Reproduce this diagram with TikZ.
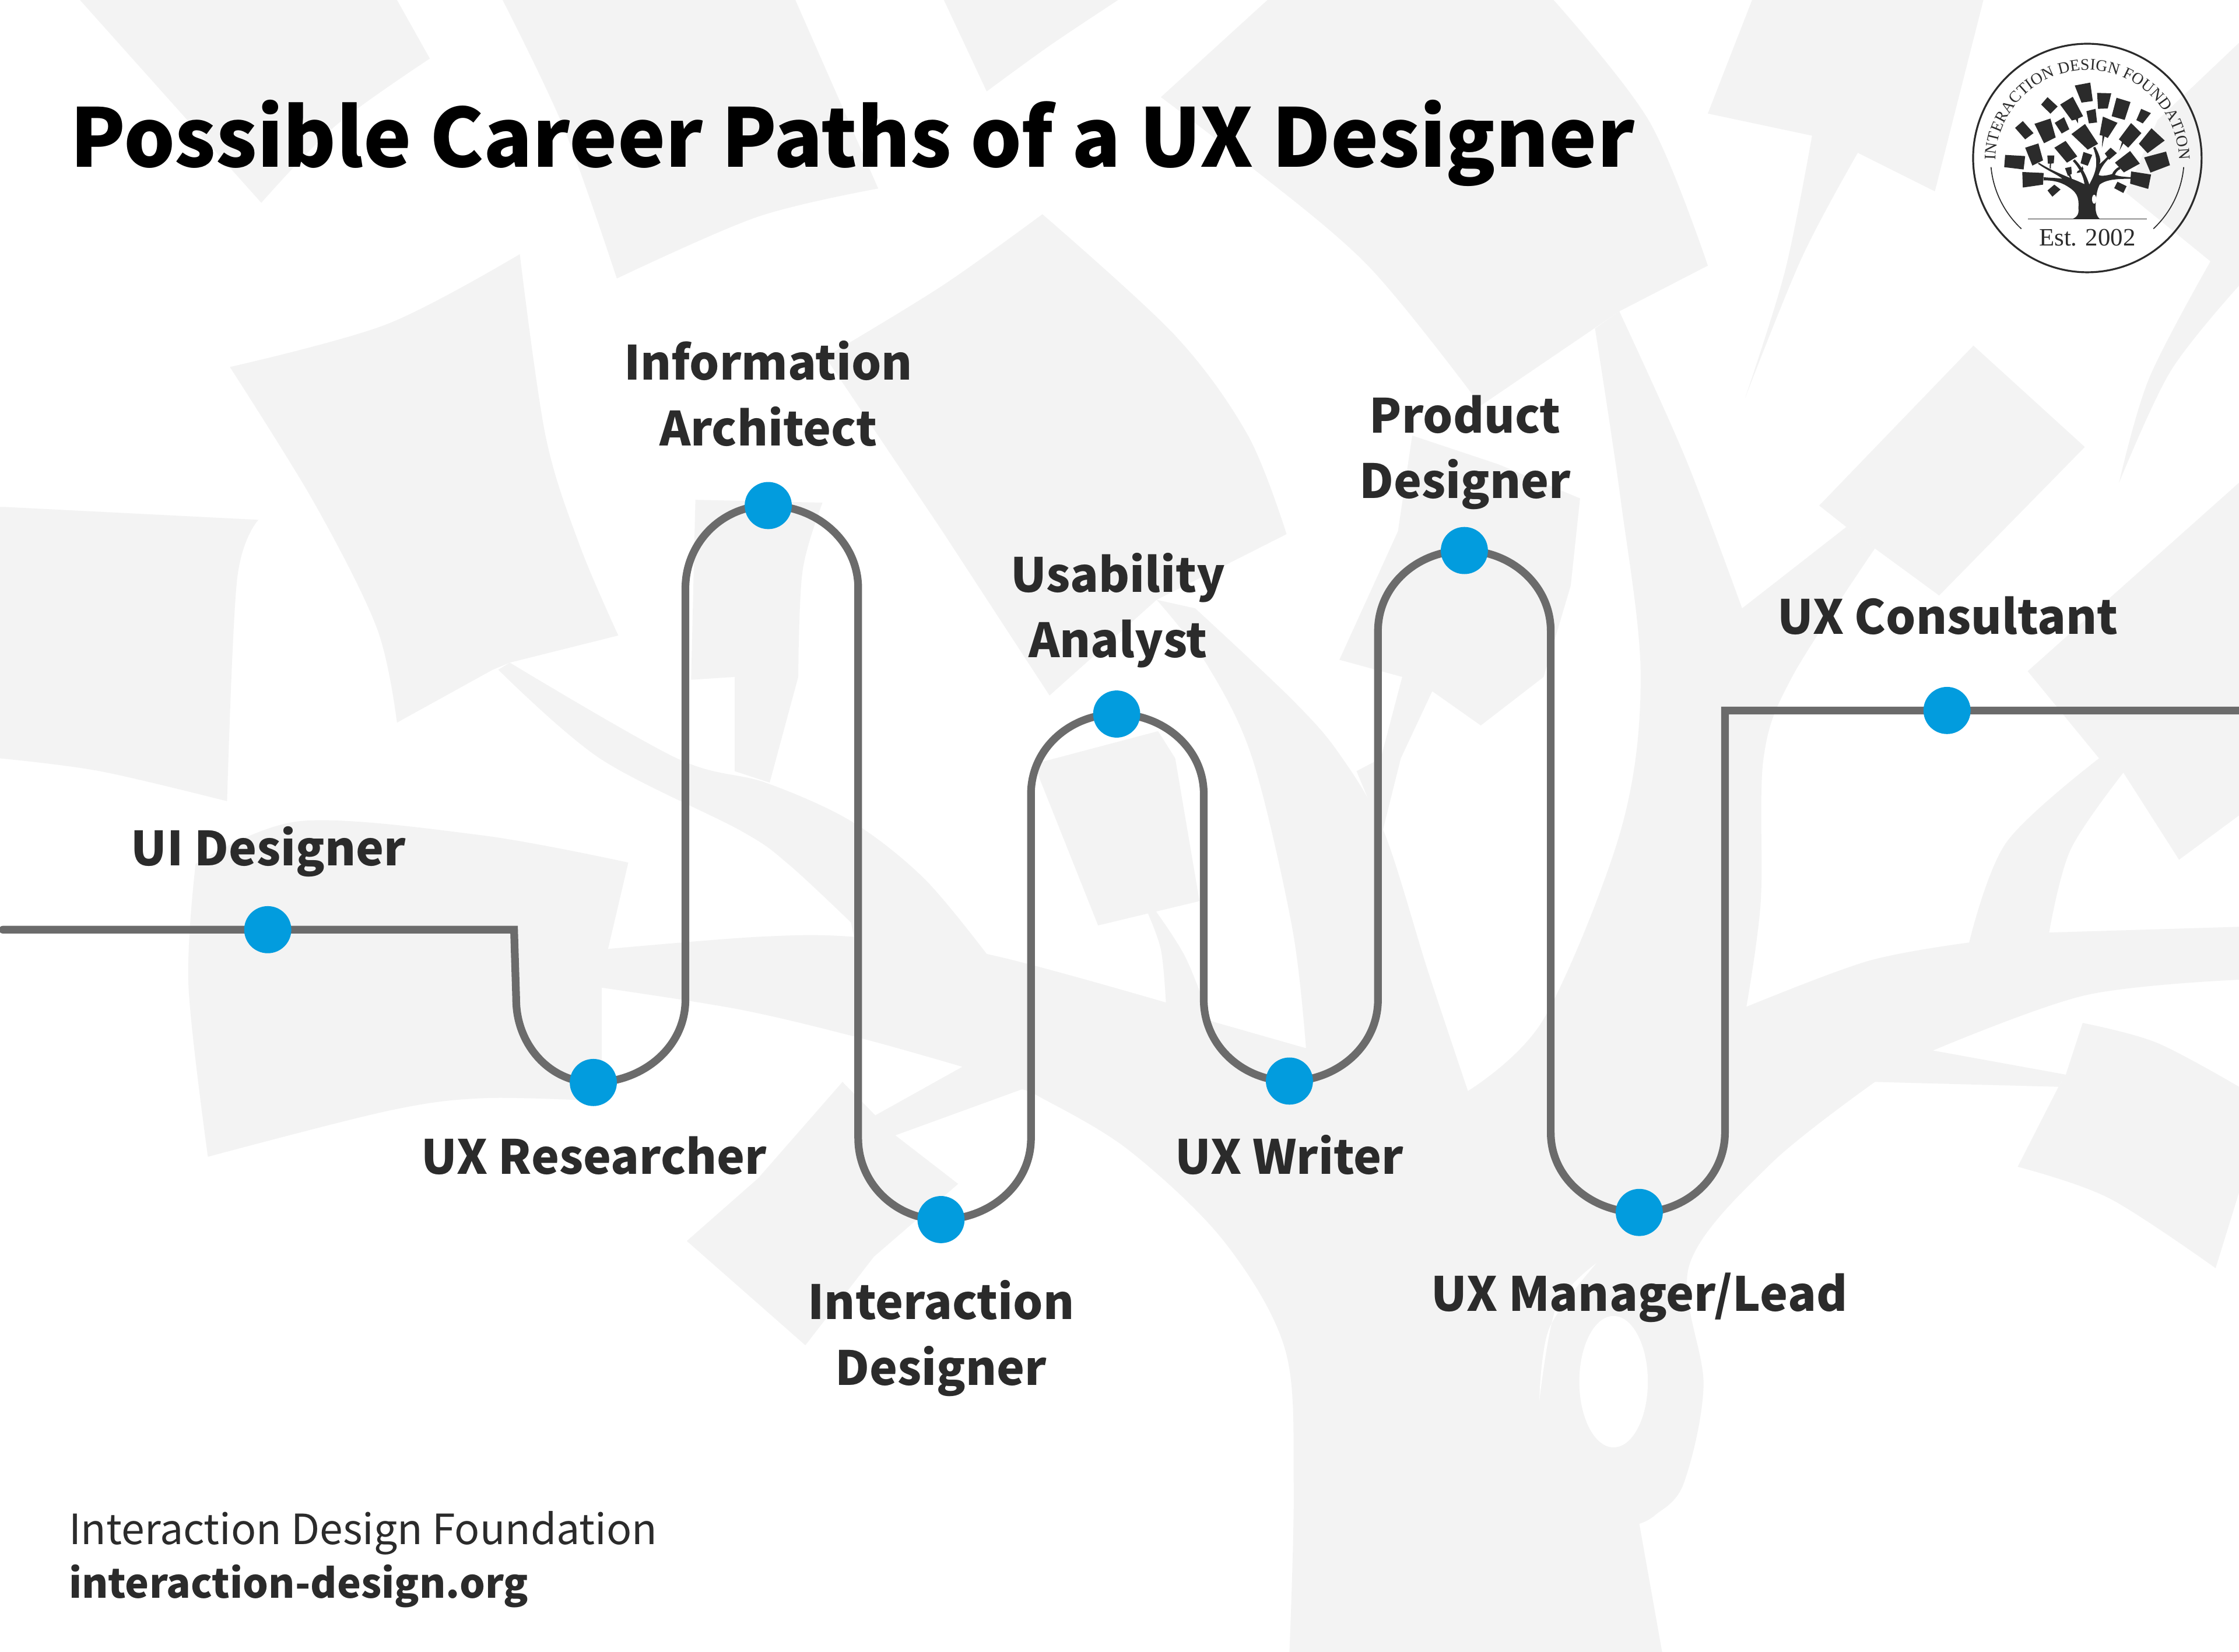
\documentclass[tikz,border=0pt]{standalone}
\usepackage{fontspec}
\usetikzlibrary{decorations.text}
\setmainfont{Noto Sans CJK SC}
\newfontfamily\logofont{Liberation Serif}
\definecolor{treegray}{HTML}{F3F3F3}
\definecolor{logoink}{HTML}{2B2B2B}
\definecolor{labelink}{HTML}{2B2B2B}
\definecolor{trackgray}{HTML}{6B6B6B}
\definecolor{dotblue}{HTML}{029CDE}
\pgfdeclarelayer{under}
\pgfsetlayers{under,main}
\newcommand{\treeshapes}{%
\fill (655,320)--(735,305)--(748,400)--(690,408)--cycle;
\fill (770,358)--(843,360)--(825,438)--(775,440)--cycle;
\fill (870,383)--(942,405)--(912,497)--(845,478)--cycle;
\fill (997,440)--(1047,462)--(1005,515)--(972,498)--cycle;
\fill (482,418)--(515,380)--(567,428)--(530,465)--cycle;
\fill (580,418)--(645,378)--(698,478)--(672,490)--(672,515)--(660,495)--(640,500)--cycle;
\fill (715,452)--(762,440)--(770,510)--(728,515)--cycle;
\fill (348,538)--(388,503)--(443,565)--(400,597)--cycle;
\fill (448,517)--(530,490)--(557,587)--(497,617)--cycle;
\fill (552,512)--(600,483)--(627,545)--(588,567)--cycle;
\fill (638,570)--(708,518)--(775,620)--(722,650)--cycle;
\fill (800,480)--(875,512)--(825,590)--(808,582)--(795,640)--(798,578)--(783,575)--cycle;
\fill (945,513)--(998,565)--(930,640)--(905,618)--(885,655)--(898,610)--(882,597)--cycle;
\fill (1050,540)--(1118,603)--(1030,668)--(985,620)--cycle;
\fill (400,640)--(468,618)--(492,705)--(437,732)--cycle;
\fill (297,677)--(400,683)--(392,752)--(292,740)--cycle;
\fill (550,640)--(608,605)--(668,685)--(615,717)--cycle;
\fill (514,680)--(550,680)--(547,720)--(533,722)--(532,748)--(526,745)--(527,722)--(517,722)--cycle;
\fill (700,662)--(745,677)--(722,733)--(685,720)--cycle;
\fill (810,670)--(840,640)--(872,668)--(832,702)--cycle;
\fill (862,717)--(940,657)--(990,722)--(908,767)--cycle;
\fill (1012,690)--(1125,660)--(1145,730)--(1045,768)--cycle;
\fill (385,765)--(495,770)--(492,830)--(388,845)--cycle;
\fill (605,745)--(637,738)--(640,775)--(632,778)--(642,805)--(634,803)--(624,783)--(620,785)--cycle;
\fill (945,762)--(1048,778)--(1033,852)--(940,825)--cycle;
\fill (515,860)--(550,830)--(582,855)--(540,892)--cycle;
\fill (875,815)--(922,838)--(905,873)--(858,848)--cycle;
\fill (640,1008) .. controls (665,998) and (678,985) .. (674,950)
  .. controls (678,890) and (665,865) .. (604,831)
  .. controls (585,822) and (560,808) .. (495,808)
  -- (495,792)
  .. controls (530,795) and (560,795) .. (592,800)
  .. controls (560,775) and (510,755) .. (465,722)
  -- (472,718)
  .. controls (530,755) and (585,775) .. (640,800)
  .. controls (655,805) and (690,820) .. (705,828)
  .. controls (700,780) and (670,735) .. (645,708)
  -- (655,700)
  .. controls (700,745) and (720,800) .. (730,830)
  .. controls (755,780) and (785,730) .. (750,640)
  -- (760,635)
  .. controls (790,690) and (790,710) .. (782,725)
  .. controls (800,710) and (815,695) .. (830,680)
  -- (838,688)
  .. controls (815,710) and (790,740) .. (778,780)
  .. controls (790,790) and (835,780) .. (848,775)
  .. controls (852,762) and (868,745) .. (884,738)
  -- (890,750)
  .. controls (875,755) and (865,770) .. (862,780)
  .. controls (890,790) and (925,790) .. (945,792)
  -- (945,800)
  .. controls (890,800) and (820,800) .. (783,830)
  .. controls (768,860) and (765,890) .. (762,943)
  .. controls (762,975) and (770,995) .. (785,1008)
  -- cycle;
\fill (700,750) .. controls (690,765) and (680,770) .. (665,770) -- (670,760) .. controls (685,755) and (690,745) .. (695,735) -- cycle;
\fill[white] (755,905) ellipse [x radius=11,y radius=23];
}
\tikzset{softcurve/.style={smooth,tension=0.55}}
\begin{document}
\begin{tikzpicture}[x=1pt,y=-1pt,
  track/.style={draw=trackgray,line width=5.4pt,line join=miter,line cap=round},
  dotn/.style={circle,fill=dotblue,draw=none,minimum size=33pt,inner sep=0pt},
  lab/.style={font=\fontsize{33}{46}\selectfont\bfseries,text=labelink,align=center,inner sep=0pt,anchor=base},
  leafbg/.style={fill=treegray}]
\useasboundingbox (0,0) rectangle (1568,1156.8);
\begin{pgfonlayer}{under}
\fill[white] (0,0) rectangle (1568,1156.8);
\begin{scope}
\clip (0,0) rectangle (1568,1156.8);
% background leaves (big tree)
\fill[leafbg] (56,0) -- (183,142) -- plot[softcurve] coordinates {(183,142) (235,88) (301,41)} -- (278,0) -- cycle;
\fill[leafbg] (352,0) -- plot[softcurve] coordinates {(352,0) (395,90) (432,195)} -- plot[softcurve] coordinates {(432,195) (530,152) (615,132)} -- (557,0) -- cycle;
\fill[leafbg] (661,0) -- (691,64) -- plot[softcurve] coordinates {(691,64) (735,32) (783,0)} -- cycle;
\fill[leafbg] (887.6,0) -- (813,68) -- plot[softcurve] coordinates {(813,68) (870,112) (958,186) (1037,284)} -- (1134,218) -- (1196,186) -- plot[softcurve] coordinates {(1196,186) (1155,85) (1088,0)} -- cycle;
\fill[leafbg] plot[softcurve] coordinates {(161,257) (271,227) (364,178)} -- plot[softcurve] coordinates {(364,178) (382,305) (406,382) (433,445)} -- (357,464) -- (345,469) -- (278,506) -- plot[softcurve] coordinates {(278,506) (264,440) (220,352) (161,257)} -- cycle;
\fill[leafbg] (3.4,355) -- (181,364) -- plot[softcurve] coordinates {(181,364) (166,406) (159,561)} -- plot[softcurve] coordinates {(159,561) (70,540) (0,531)} -- (0,355) -- cycle;
\fill[leafbg] (578,250) -- plot[softcurve] coordinates {(578,250) (660,200) (730,150)} -- plot[softcurve] coordinates {(730,150) (823,235) (874,305) (901,374)} -- (810,420) -- (735,487) -- (660,372) -- cycle;
\fill[leafbg] (487,350) -- (576,352) -- plot[softcurve] coordinates {(576,352) (562,400) (559,474)} -- (539,548) -- (514.5,540) -- (514.5,474) -- (484,476) -- cycle;
\fill[leafbg] (724,535) -- (811,512) -- (823,531) -- (840,631) -- (769,648) -- cycle;
\fill[leafbg] (989,305) -- (1049,325) -- (1106.5,349) -- (1100,410) -- (1081,474) -- (1037,508) -- (1003,484) -- (981,531) -- (968,583) -- (950,540) -- (967,531) -- (982,474) -- (938,462) -- (979,372) -- cycle;
\fill[leafbg] (1227,0) -- (1196,79.5) -- (1269,95) -- plot[softcurve] coordinates {(1269,95) (1250,190) (1222,279)} -- plot[softcurve] coordinates {(1222,279) (1262,180) (1301,107)} -- (1355,134) -- (1389,0) -- cycle;
\fill[leafbg] (1568,30) -- (1511,84) -- (1489,135) -- (1548,183) -- plot[softcurve] coordinates {(1548,183) (1505,265) (1484,338)} -- plot[softcurve] coordinates {(1484,338) (1520,260) (1568,200)} -- cycle;
\fill[leafbg] (1382,242) -- (1460,313) -- (1358,417) -- (1313,384) -- (1293,369) -- (1274,354) -- cycle;
\fill[leafbg] (1420,470) -- (1568,338) -- (1568,571) -- (1526,602) -- (1487,541) -- (1470,531) -- cycle;
\fill[leafbg] (1458.5,716.3) -- plot[softcurve] coordinates {(1458.5,716.3) (1510,730) (1568,761)} -- (1568,835) -- (1551.6,888) -- plot[softcurve] coordinates {(1551.6,888) (1477,839) (1413,817)} -- (1441.6,761) -- (1446.7,752.5) -- cycle;
% limb to the top left leaf
\fill[leafbg] (349,469) -- (357,464) -- plot[softcurve] coordinates {(357,464) (474,531) (536,548) (596,575) (647,615) (691,668)} -- (598,656) -- plot[softcurve] coordinates {(596,646) (552,605) (518.6,581.6) (420,531) (349,469)} -- cycle;
% trunk, limbs and the leaves that grow out of them
\fill[leafbg] plot[softcurve] coordinates {(903,1157) (906,1040) (900,945) (857,869) (790,805) (728,768) (715,763)}
  -- (627,795) -- (671,829) -- (612,880) -- (564,942) -- (481,869) -- (531,825) -- (590,757.6) -- (613,781) -- (674,747)
  -- plot[softcurve] coordinates {(674,747) (603,727) (518.6,707) (421.4,691.6)}
  -- (421.4,771) -- plot[softcurve] coordinates {(421.4,771) (338,769) (271,778) (145.6,810)}
  -- plot[softcurve] coordinates {(145.6,810) (132,690) (137,605)}
  -- plot[softcurve] coordinates {(137,605) (210,575) (338,585) (440,604)}
  -- (425.8,664.5) -- plot[softcurve] coordinates {(425.8,664.5) (531,656) (598,656) (691,668) (816.5,702)}
  -- plot[softcurve] coordinates {(816.5,702) (813,665) (803,637.5)} -- (808,636) -- plot[softcurve] coordinates {(808,636) (830,670) (848,715)}
  -- (914.6,734) -- plot[softcurve] coordinates {(914.6,734) (905,650) (877,531) (845,465) (810,420)}
  -- plot[softcurve] coordinates {(837,426) (905,490) (938,528) (969,582) (1000,680) (1028,764)}
  -- plot[softcurve] coordinates {(1028,764) (1081,713.6) (1135,581.6) (1149,474) (1135,350) (1117,230)}
  -- (1134,218) -- plot[softcurve] coordinates {(1134,218) (1180,320) (1220,426)} -- (1293,369) -- (1313,384)
  -- plot[softcurve] coordinates {(1313,384) (1255,474) (1235,531) (1233,632) (1223,705)}
  -- plot[softcurve] coordinates {(1223,705) (1308,673) (1379,660)}
  -- plot[softcurve] coordinates {(1379,660) (1405,590) (1470,531)} -- (1487,541)
  -- plot[softcurve] coordinates {(1487,541) (1450,595) (1435,653)} -- (1568,649) -- (1568,686)
  -- plot[softcurve] coordinates {(1568,686) (1460,697) (1353.6,735.6)} -- (1446.7,752.5) -- (1441.6,761) -- (1313,757.6)
  -- plot[softcurve] coordinates {(1313,757.6) (1240,815) (1183,886) (1193,970) (1179,1039) (1159,1061) (1148,1067)}
  -- (1164,1157) -- cycle;
\fill[white] (1130,967.5) ellipse [x radius=24pt,y radius=46pt];
\fill[white] plot[softcurve] coordinates {(1118,884.5) (1090,915) (1078,981)} -- plot[softcurve] coordinates {(1078,981) (1085,930) (1118,884.5)} -- cycle;
\end{scope}
\end{pgfonlayer}
% logo
\begin{scope}[shift={(1363.8,16.33)},x=0.1361pt,y=-0.1361pt,fill=logoink]
\treeshapes
\draw[logoink,line width=1.3pt] plot[domain=0:360,samples=120,smooth] ({720+588*cos(\x)},{693-588*sin(\x)});
\draw[logoink,line width=0.7pt] plot[domain=185.4:227,samples=30] ({720+498*cos(\x)},{693-498*sin(\x)});
\draw[logoink,line width=0.7pt] plot[domain=-5.4:-47,samples=30] ({720+498*cos(\x)},{693-498*sin(\x)});
\draw[logoink,line width=0.7pt] (415,1007)--(1025,1007);
\path[decorate,decoration={text along path,text align={fit to path},
  text={|\logofont\fontsize{11.3}{12}\selectfont\color{logoink}|INTERACTION DESIGN FOUNDATION}}]
  plot[domain=179:1,samples=90] ({720+472*cos(\x)},{712-472*sin(\x)});
\node[font=\logofont\fontsize{17.5}{18}\selectfont,text=logoink,inner sep=0pt,anchor=base] (est) at (720,1146) {Est. 2002};
\end{scope}
% path coordinates
\coordinate (a0) at (2,651);
\coordinate (a1) at (360,651);
\coordinate (a2) at (361.5,700);
\coordinate (a3) at (480,700);
\coordinate (a4) at (480,412);
\coordinate (a5) at (601,412);
\coordinate (a6) at (601,797);
\coordinate (a7) at (722,797);
\coordinate (a8) at (722,556);
\coordinate (a9) at (843,556);
\coordinate (a10) at (843,700);
\coordinate (a11) at (965,700);
\coordinate (a12) at (965,442);
\coordinate (a13) at (1086,442);
\coordinate (a14) at (1086,793);
\coordinate (a15) at (1208,793);
\coordinate (a16) at (1208,497.5);
\coordinate (a17) at (1570,497.5);
% dots
\node[dotn] (d1) at (187.5,651) {};
\node[dotn] (d2) at (415.5,758) {};
\node[dotn] (d3) at (538,354) {};
\node[dotn] (d4) at (659,854) {};
\node[dotn] (d5) at (782,500) {};
\node[dotn] (d6) at (903,757) {};
\node[dotn] (d7) at (1025.5,385.5) {};
\node[dotn] (d8) at (1148,849) {};
\node[dotn] (d9) at (1363.5,497.5) {};
\begin{pgfonlayer}{under}
\draw[track] (a0) -- (d1.center) -- (a1) -- (a2)
  to[out=-90,in=180] (d2.center) to[out=0,in=-90] (a3) -- (a4)
  to[out=90,in=180] (d3.center) to[out=0,in=90] (a5) -- (a6)
  to[out=-90,in=180] (d4.center) to[out=0,in=-90] (a7) -- (a8)
  to[out=90,in=180] (d5.center) to[out=0,in=90] (a9) -- (a10)
  to[out=-90,in=180] (d6.center) to[out=0,in=-90] (a11) -- (a12)
  to[out=90,in=180] (d7.center) to[out=0,in=90] (a13) -- (a14)
  to[out=-90,in=180] (d8.center) to[out=0,in=-90] (a15) -- (a16)
  -- (d9.center) -- (a17);
\end{pgfonlayer}
% labels
\node[lab] (l1) at (188,606) {UI Designer};
\node[lab] (l2) at (416,822) {UX Researcher};
\node[lab] (l3) at (538,312) {Information\\Architect};
\node[lab] (l4) at (659,970) {Interaction\\Designer};
\node[lab] (l5) at (783,460.5) {Usability\\Analyst};
\node[lab] (l6) at (903,822) {UX Writer};
\node[lab] (l7) at (1026,349) {Product\\Designer};
\node[lab] (l8) at (1148,918) {UX Manager/Lead};
\node[lab] (l9) at (1364,444) {UX Consultant};
\node[font=\fontsize{56.6}{66}\selectfont\bfseries,text=black,inner sep=0pt,anchor=base west] (title) at (49,117) {Possible Career Paths of a UX Designer};
\node[font=\fontsize{29.2}{36}\selectfont,text=labelink,inner sep=0pt,anchor=base west] (f1) at (48,1081.5) {Interaction Design Foundation};
\node[font=\fontsize{28.2}{36}\selectfont\bfseries,text=labelink,inner sep=0pt,anchor=base west] (f2) at (48,1119) {interaction-design.org};
\end{tikzpicture}
\end{document}
